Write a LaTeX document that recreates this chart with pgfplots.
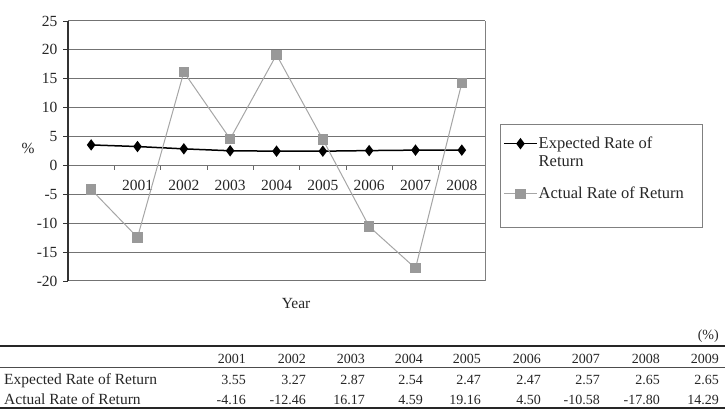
\documentclass[border=0pt]{standalone}
\usepackage{pgfplots}
\pgfplotsset{compat=1.18}
\usepackage{fontspec}
\setmainfont{Liberation Serif}
\newcommand{\chartfont}{\fontsize{15.5}{18}\selectfont}
\newcommand{\legfont}{\fontsize{16.5}{18}\selectfont}
\newcommand{\tabfont}{\fontsize{14}{16}\selectfont}
\newcommand{\labfont}{\fontsize{15.5}{18}\selectfont}
\pgfplotsset{
  normleg/.style={legend image code/.code={\draw[mark repeat=2,mark phase=2,##1] plot coordinates {(2pt,0pt)(18.5pt,0pt)(35pt,0pt)};}},
  shiftedleg/.style={legend image code/.code={\draw[mark repeat=2,mark phase=2,##1] plot coordinates {(2pt,9pt)(18.5pt,9pt)(35pt,9pt)};}},
}
\begin{document}
\begin{tikzpicture}[x=1pt,y=1pt]
\path[use as bounding box] (0,0) rectangle (725,414);
\begin{axis}[
  at={(68pt,133pt)}, anchor=south west,
  width=417pt, height=260pt, scale only axis,
  xmin=-0.5, xmax=8.5, ymin=-20, ymax=25,
  axis y line*=left, axis x line*=middle,
  ytick={-20,-15,...,25},
  yticklabel={\pgfmathprintnumber[assume math mode=true]{\tick}},
  xtick={1,...,8},
  xticklabels={2001,2002,2003,2004,2005,2006,2007,2008},
  minor xtick={0.5,1.5,...,7.5},
  every major x tick/.append style={draw=none},
  every minor x tick/.append style={draw=black!60,line width=0.9pt},
  tick align=outside, major tick length=5pt, minor tick length=4.5pt,
  ymajorgrids,
  major grid style={draw=black!55,line width=1pt},
  y axis line style={draw=black!80,line width=1.4pt},
  x axis line style={draw=black!55,line width=1pt},
  ytick style={draw=black!80,line width=0.9pt},
  tick label style={font=\chartfont, text=black!85},
  yticklabel style={xshift=-2pt},
  xticklabel style={yshift=-6pt},
  ylabel={\%},
  every axis y label/.style={at={(rel axis cs:-0.096,0.508)},anchor=center,font=\chartfont,text=black!85},
  xlabel={Year},
  every axis x label/.style={at={(rel axis cs:0.547,-0.085)},anchor=center,font=\chartfont,text=black!85},
  clip=false,
  legend style={at={(rel axis cs:1.036,0.581)}, anchor=north west,
    draw=none, fill=none, font=\legfont, text=black!85,
    inner xsep=3pt, inner ysep=6pt, row sep=17pt,
    nodes={align=left, inner sep=1pt}},
  legend cell align=left,
  normleg,
]
\draw[black!50,line width=1pt] (rel axis cs:1,0) -- (rel axis cs:1,1);
\addplot[black, line width=1.5pt, mark=diamond*, mark size=4.5pt, mark options={fill=black,solid}, shiftedleg]
  coordinates {(0,3.55)(1,3.27)(2,2.87)(3,2.54)(4,2.47)(5,2.47)(6,2.57)(7,2.65)(8,2.65)};
\addlegendentry{Expected Rate of\\Return}
\addplot[color=black!35, line width=1pt, mark=square*, mark size=4.7pt, mark options={fill=black!40,draw=black!40,solid}]
  coordinates {(0,-4.16)(1,-12.46)(2,16.17)(3,4.59)(4,19.16)(5,4.50)(6,-10.58)(7,-17.80)(8,14.29)};
\addlegendentry{Actual Rate of Return}
\end{axis}
% legend frame
\draw[black!50,line width=0.9pt] (500,290) rectangle (702,187);
% table
\draw[black!85,line width=2pt] (0,68) -- (725,68);
\draw[black!70,line width=0.9pt] (0,47) -- (725,47);
\draw[black!85,line width=2.2pt] (0,6) -- (725,6);
\node[anchor=base east,inner sep=0pt,font=\tabfont,text=black!85] at (719,74) {(\%)};
\node[anchor=base west,inner sep=0pt,font=\labfont,text=black!85] at (4,29) {Expected Rate of Return};
\node[anchor=base west,inner sep=0pt,font=\labfont,text=black!85] at (4,9) {Actual Rate of Return};
\foreach \x/\t in {246/2001,306/2002,365/2003,423/2004,481/2005,541/2006,600/2007,660/2008,719/2009}
  \node[anchor=base east,inner sep=0pt,font=\tabfont,text=black!85] at (\x,50) {\t};
\foreach \x/\t in {246/3.55,306/3.27,365/2.87,423/2.54,481/2.47,541/2.47,600/2.57,660/2.65,719/2.65}
  \node[anchor=base east,inner sep=0pt,font=\tabfont,text=black!85] at (\x,29) {\t};
\foreach \x/\t in {246/-4.16,306/-12.46,365/16.17,423/4.59,481/19.16,541/4.50,600/-10.58,660/-17.80,719/14.29}
  \node[anchor=base east,inner sep=0pt,font=\tabfont,text=black!85] at (\x,9) {\t};
\end{tikzpicture}
\end{document}
